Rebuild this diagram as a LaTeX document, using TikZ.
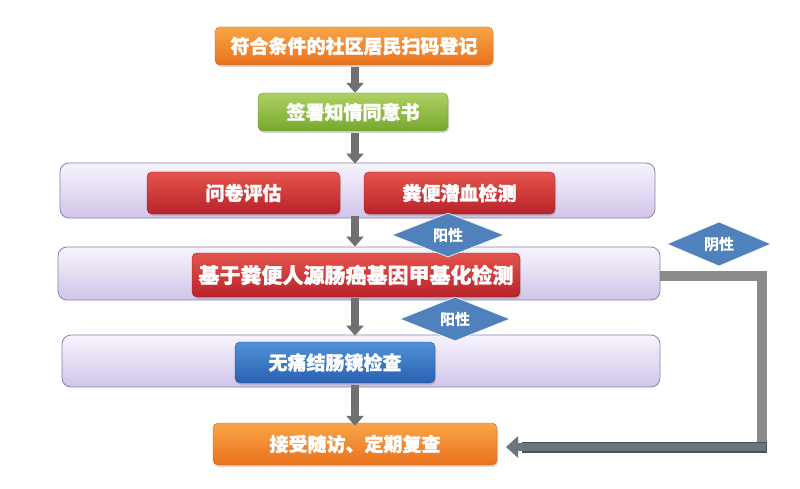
\documentclass[tikz,border=0pt]{standalone}
\usepackage{fontspec}
\newfontfamily\cjk{Noto Sans CJK SC Bold}[FakeBold=1.3]
\usetikzlibrary{shapes.geometric,arrows.meta,shadows}
\definecolor{orT}{HTML}{F9A548}
\definecolor{orB}{HTML}{E8711C}
\definecolor{grT}{HTML}{AED065}
\definecolor{grB}{HTML}{76A82C}
\definecolor{rdT}{HTML}{E5544C}
\definecolor{rdB}{HTML}{B8222A}
\definecolor{blT}{HTML}{5092D8}
\definecolor{blB}{HTML}{2A60B0}
\definecolor{lvT}{HTML}{F7F4FC}
\definecolor{lvB}{HTML}{D2C4EA}
\definecolor{lvD}{HTML}{8E82AE}
\definecolor{dmd}{HTML}{4F81BD}
\definecolor{arr}{HTML}{707070}
\definecolor{conn}{HTML}{8A8A8A}
\definecolor{connB}{HTML}{6B7480}
\tikzset{
  box/.style={rounded corners=5pt, text=white, font=\cjk\bfseries\fontsize{19}{22}\selectfont,
    inner sep=0pt, drop shadow={opacity=0.3, shadow xshift=1pt, shadow yshift=-2pt}},
  orbox/.style={box, top color=orT, bottom color=orB, draw=orB!90!black},
  grbox/.style={box, top color=grT, bottom color=grB, draw=grB!90!black},
  rdbox/.style={box, top color=rdT, bottom color=rdB, draw=rdB!85!black},
  blbox/.style={box, top color=blT, bottom color=blB, draw=blB!85!black},
  band/.style={rounded corners=9pt, top color=lvT, bottom color=lvB, draw=lvD, line width=0.8pt,
    inner sep=0pt},
  dia/.style={diamond, fill=dmd, draw=white, line width=0.6pt, inner sep=0pt, text=white,
    font=\cjk\fontsize{15}{17}\selectfont},
  darr/.style={draw=arr, line width=8pt, -{Triangle[width=17pt,length=10pt]}, shorten <=2pt, shorten >=0pt}
}
\begin{document}
\begin{tikzpicture}[x=1pt,y=-1pt]
\useasboundingbox[fill=white] (0,0) rectangle (800,489);
% top boxes
\node[orbox, minimum width=278pt, minimum height=38pt] (b1) at (354,46) {符合条件的社区居民扫码登记};
\node[grbox, minimum width=190pt, minimum height=38pt] (b2) at (353,112) {签署知情同意书};
% bands
\node[band, minimum width=595pt, minimum height=55pt] (band1) at (357.5,190.5) {};
\node[band, minimum width=602pt, minimum height=53pt] (band2) at (359,273.5) {};
\node[band, minimum width=598pt, minimum height=52pt] (band3) at (361,361) {};
% inner boxes
\node[rdbox, minimum width=193pt, minimum height=42pt] (q) at (243.5,193) {问卷评估};
\node[rdbox, minimum width=191pt, minimum height=42pt] (f) at (459.5,193) {粪便潜血检测};
\node[rdbox, minimum width=328pt, minimum height=44pt] (m) at (356,275) {\fontsize{21}{24}\selectfont 基于粪便人源肠癌基因甲基化检测};
\node[blbox, minimum width=200pt, minimum height=41pt] (c) at (335,362.5) {无痛结肠镜检查};
\node[orbox, minimum width=284pt, minimum height=42pt] (fu) at (355,444) {接受随访、定期复查};
% down arrows
\coordinate (ax) at (355,0);
\draw[darr] (b1.south -| ax) -- (b2.north -| ax);
\draw[darr] (b2.south -| ax) -- ([yshift=-1pt]band1.north -| ax);
\draw[darr] ([yshift=4pt]band1.south -| ax) -- (band2.north -| ax);
\draw[darr] ([yshift=4pt]band2.south -| ax) -- ([yshift=-1pt]band3.north -| ax);
\draw[darr] ([yshift=4pt]band3.south -| ax) -- ([yshift=-3pt]fu.north -| ax);
% right connector
\coordinate (rc1) at (762,276);
\coordinate (rc2) at (762,447);
\coordinate (tip) at (506,447);
\draw[conn, line width=10pt] (band2.east |- rc1) -- (rc1) -- ([yshift=5pt]rc2);
\draw[connB!70!black, line width=11pt] ([xshift=5pt]rc2) -- ([xshift=16pt]tip);
\draw[connB, line width=8pt, -{Triangle[width=21pt,length=12pt]}] ([xshift=4pt]rc2) -- (tip);
% diamonds
\node[dia, minimum width=112pt, minimum height=38pt] (d1) at (448,235) {阳性};
\node[dia, minimum width=110pt, minimum height=38pt] (d2) at (455,319) {阳性};
\node[dia, minimum width=104pt, minimum height=38pt] (d3) at (719,244) {阴性};
\end{tikzpicture}
\end{document}
